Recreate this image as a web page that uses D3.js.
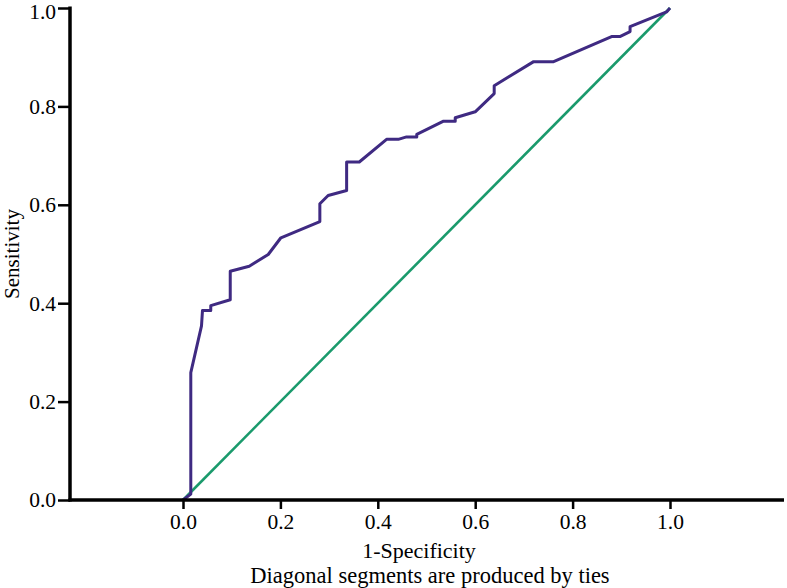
<!DOCTYPE html>
<html>
<head>
<meta charset="utf-8">
<script src="https://cdn.jsdelivr.net/npm/d3@7"></script>
<style>
  body { margin: 0; background: #fff; }
  text { font-family: "Liberation Serif", "Times New Roman", serif; }
</style>
</head>
<body>
<svg id="roc"></svg>
<script>
// --------------------
//  data
// --------------------
// ROC curve (1-Specificity, Sensitivity)
const fpr = [0, 0.016, 0.016, 0.038, 0.040, 0.057, 0.057, 0.097, 0.097, 0.136, 0.175, 0.201,
             0.281, 0.281, 0.298, 0.336, 0.336, 0.362, 0.418, 0.442, 0.459, 0.480, 0.480,
             0.535, 0.559, 0.559, 0.600, 0.639, 0.639, 0.720, 0.761, 0.880, 0.897, 0.918,
             0.918, 0.993, 1.0];
const tpr = [0, 0.012, 0.259, 0.354, 0.385, 0.385, 0.395, 0.407, 0.465, 0.475, 0.499, 0.533,
             0.566, 0.602, 0.619, 0.629, 0.687, 0.687, 0.733, 0.733, 0.738, 0.738, 0.743,
             0.770, 0.770, 0.777, 0.789, 0.826, 0.842, 0.891, 0.891, 0.942, 0.942, 0.952,
             0.962, 0.992, 1.0];
// reference line
const refX = [0, 1];
const refY = [0, 1];

const xTicks = [0, 0.2, 0.4, 0.6, 0.8, 1.0];
const yTicks = [0, 0.2, 0.4, 0.6, 0.8, 1.0];

// --------------------
//  chart
// --------------------
const width = 787;
const height = 588;

const svg = d3.select('#roc')
    .attr('width', width)
    .attr('height', height);

// x軸は 0 の左側にも余白がある
const x = d3.scaleLinear().domain([0, 1]).range([183, 670]);
const y = d3.scaleLinear().domain([0, 1]).range([500, 8]);
const axisLeft = 70;
const axisRight = 784;

const line = d3.line().x(d => x(d[0])).y(d => y(d[1]));

// 参照線
svg.append('path')
    .datum(refX.map((v, i) => [v, refY[i]]))
    .attr('fill', 'none')
    .attr('stroke', '#1a9a6c')
    .attr('stroke-width', 2.6)
    .attr('d', line);

// ROC曲線
svg.append('path')
    .datum(fpr.map((v, i) => [v, tpr[i]]))
    .attr('fill', 'none')
    .attr('stroke', '#3f2a82')
    .attr('stroke-width', 3)
    .attr('stroke-linejoin', 'round')
    .attr('d', line);

// axes
const yAxis = svg.append('g')
    .attr('transform', `translate(${axisLeft},0)`)
    .call(d3.axisLeft(y).tickValues(yTicks).tickFormat(d3.format('.1f')).tickSize(12).tickPadding(2));
yAxis.select('.domain').remove();
yAxis.append('line')
    .attr('x1', 0).attr('x2', 0)
    .attr('y1', y(1) - 1.5).attr('y2', y(0) + 1.5)
    .attr('stroke', '#000').attr('stroke-width', 3.5);
// 上端のラベルは少し下げる
yAxis.selectAll('.tick').filter(d => d === 1).select('text').attr('y', 3.5);

const xAxis = svg.append('g')
    .attr('transform', `translate(0,${y(0)})`)
    .call(d3.axisBottom(x).tickValues(xTicks).tickFormat(d3.format('.1f')).tickSize(9).tickPadding(5));
xAxis.select('.domain').remove();
xAxis.append('line')
    .attr('x1', axisLeft - 1.5).attr('x2', axisRight)
    .attr('y1', 0).attr('y2', 0)
    .attr('stroke', '#000').attr('stroke-width', 3.5);

svg.selectAll('.tick line').attr('stroke', '#000').attr('stroke-width', 2.5);
svg.selectAll('.tick text')
    .attr('fill', '#000')
    .attr('font-size', '21.5px')
    .attr('font-family', '"Liberation Serif", serif');

// labels
svg.append('text')
    .attr('transform', `translate(19,${(y(0) + y(1)) / 2}) rotate(-90)`)
    .attr('text-anchor', 'middle')
    .attr('font-size', '21px')
    .text('Sensitivity');

svg.append('text')
    .attr('x', 419)
    .attr('y', 558)
    .attr('text-anchor', 'middle')
    .attr('font-size', '22px')
    .text('1-Specificity');

svg.append('text')
    .attr('x', 430)
    .attr('y', 583)
    .attr('text-anchor', 'middle')
    .attr('font-size', '22.5px')
    .text('Diagonal segments are produced by ties');
</script>
</body>
</html>
